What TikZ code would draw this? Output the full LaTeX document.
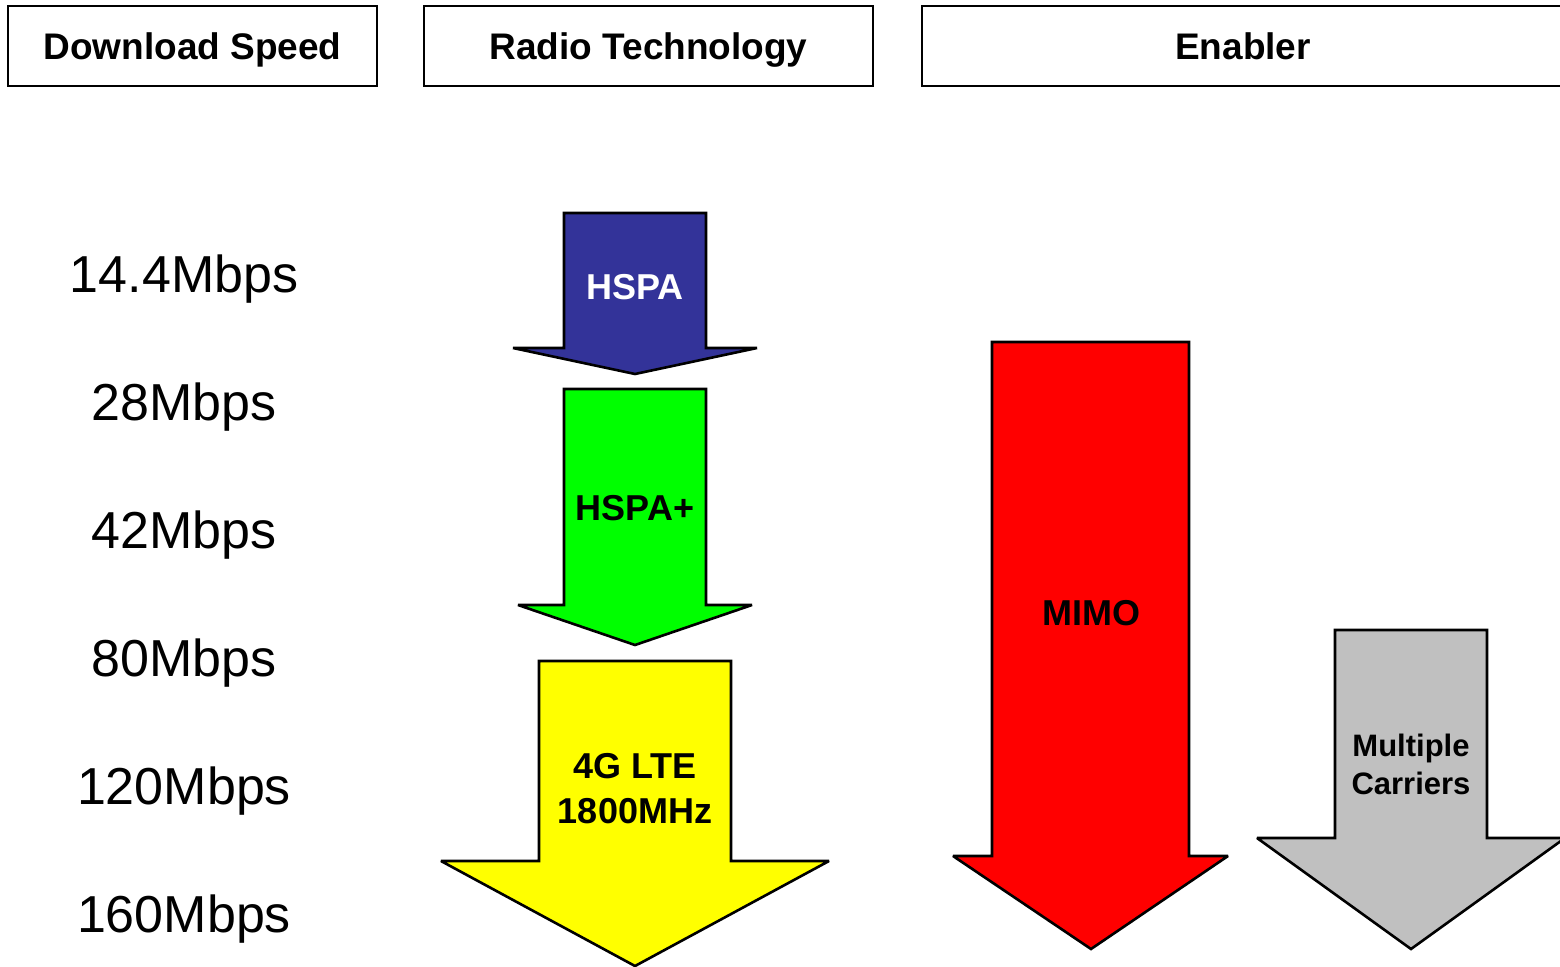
\documentclass[tikz,border=0pt]{standalone}
\usepackage{fontspec}
\setmainfont{Liberation Sans}
\usepackage{xcolor}
\usepackage{tikz}
\usetikzlibrary{positioning}
\definecolor{hspablue}{HTML}{333399}
\definecolor{hspagreen}{HTML}{00FF00}
\definecolor{ltyellow}{HTML}{FFFF00}
\definecolor{mimored}{HTML}{FF0000}
\definecolor{carriergray}{HTML}{C0C0C0}

\begin{document}
\begin{tikzpicture} [x=1pt, y=-1pt,
                headbox/.style = {draw, line width=2.2pt, minimum height=80pt, inner sep=0pt, text depth=0pt, font=\fontsize{37}{40}\selectfont\bfseries},
                speed/.style = {anchor=base, inner sep=0pt, font=\fontsize{52}{60}\selectfont},
                fatarrow/.style = {draw=black, line width=2.6pt, line join=miter, miter limit=1.5},
                arrowtext/.style = {inner sep=0pt, align=center, font=\fontsize{36}{45}\selectfont\bfseries}
            ]
            \clip (0,0) rectangle (1560,966);
            \useasboundingbox (0,0) rectangle (1560,966);
            % column heads
            \node[headbox, minimum width=369pt] (speedhead) at (192.5,46) {Download Speed};
            \node[headbox, minimum width=449pt] (radiohead) at (648.5,46) {Radio Technology};
            \node[headbox, minimum width=642pt] (enablerhead) at (1243,46) {Enabler};
            % rates
            \node[speed] (r1) at (184,292) {14.4Mbps};
            \node[speed] (r2) at (184,420) {28Mbps};
            \node[speed] (r3) at (184,548) {42Mbps};
            \node[speed] (r4) at (184,676) {80Mbps};
            \node[speed] (r5) at (184,804) {120Mbps};
            \node[speed] (r6) at (184,932) {160Mbps};
            % radio technology arrows
            \filldraw[fatarrow, fill=hspablue] (564,213) -- (706,213) -- (706,348) -- (757,348) -- (635,374) -- (513,348) -- (564,348) -- cycle;
            \node[arrowtext, text=white] (hspa) at (635,287) {HSPA};
            \filldraw[fatarrow, fill=hspagreen] (564,389) -- (706,389) -- (706,605) -- (752,605) -- (635,645) -- (518,605) -- (564,605) -- cycle;
            \node[arrowtext] (hspaplus) at (635,508) {HSPA+};
            \filldraw[fatarrow, fill=ltyellow] (539,661) -- (731,661) -- (731,861) -- (829,861) -- (635,966) -- (441,861) -- (539,861) -- cycle;
            \node[arrowtext] (lte) at (635,789) {4G LTE\\1800MHz};
            % enablers
            \filldraw[fatarrow, fill=mimored] (992,342) -- (1189,342) -- (1189,856) -- (1228,856) -- (1091,949) -- (953,856) -- (992,856) -- cycle;
            \node[arrowtext] (mimo) at (1091,613) {MIMO};
            \filldraw[fatarrow, fill=carriergray] (1335,630) -- (1487,630) -- (1487,838) -- (1565,838) -- (1411,949) -- (1257,838) -- (1335,838) -- cycle;
            \node[arrowtext, font=\fontsize{31}{38}\selectfont\bfseries] (carriers) at (1411,764) {Multiple\\Carriers};
        \end{tikzpicture}
\end{document}
